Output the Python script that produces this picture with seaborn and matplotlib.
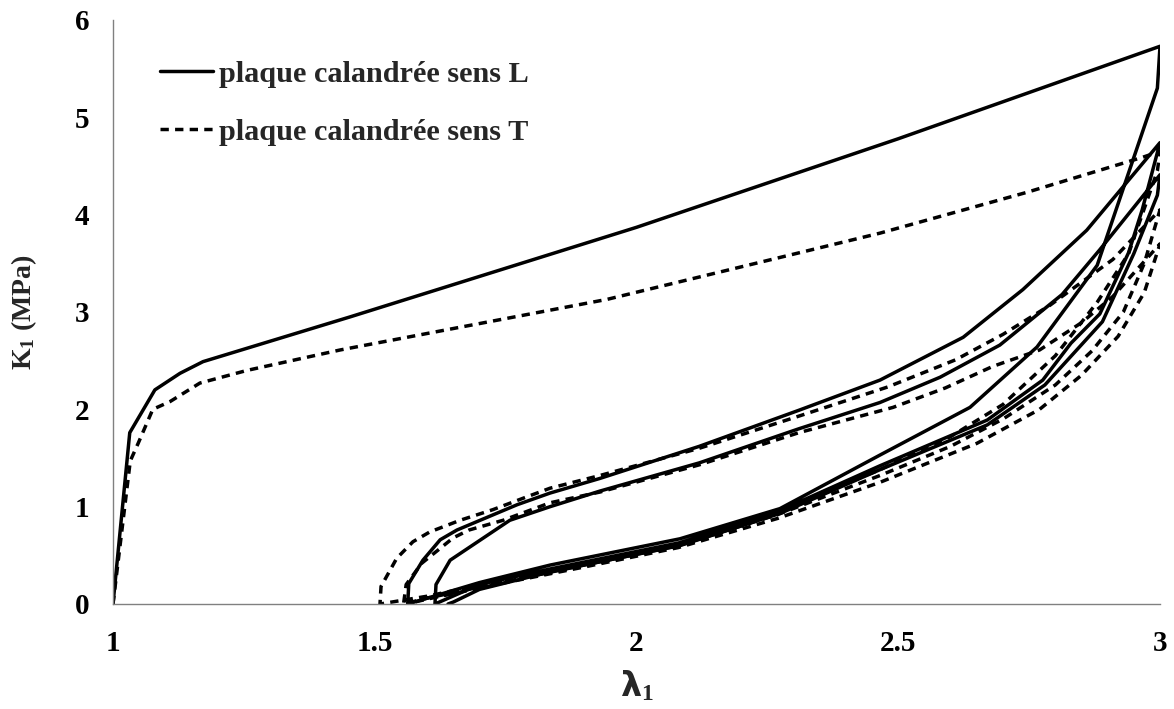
import numpy as np
import pandas as pd
import matplotlib
matplotlib.use("Agg")
import matplotlib.pyplot as plt
from matplotlib.lines import Line2D
import seaborn as sns

# ---------------- data ----------------
# plaque calandrée sens L (solid)
L_load1_lam = [1.0, 1.032, 1.08, 1.128, 1.172, 1.453, 2.0, 2.5, 3.0]
L_load1_K = [0.0, 1.76, 2.20, 2.37, 2.49, 2.95, 3.87, 4.78, 5.73]
L_unload1_lam = [3.0, 2.995, 2.88, 2.765, 2.637, 2.465, 2.274, 2.083, 1.835, 1.70, 1.563]
L_unload1_K = [5.73, 5.30, 3.48, 2.64, 2.02, 1.53, 0.98, 0.67, 0.40, 0.22, 0.0]
L_load2_lam = [1.563, 1.565, 1.592, 1.625, 1.657, 1.772, 1.835, 1.93, 2.12, 2.31, 2.465, 2.624, 2.738, 2.82, 2.86, 3.0]
L_load2_K = [0.0, 0.21, 0.45, 0.66, 0.76, 1.02, 1.14, 1.29, 1.62, 1.99, 2.30, 2.74, 3.23, 3.64, 3.84, 4.74]
L_unload2_lam = [3.0, 2.966, 2.94, 2.885, 2.83, 2.776, 2.67, 2.465, 2.274, 2.083, 1.835, 1.70, 1.615]
L_unload2_K = [4.74, 4.05, 3.61, 2.98, 2.68, 2.30, 1.89, 1.42, 0.96, 0.63, 0.36, 0.20, 0.0]
L_load3_lam = [1.615, 1.617, 1.644, 1.758, 1.835, 1.93, 2.12, 2.31, 2.465, 2.58, 2.694, 2.813, 2.885, 3.0]
L_load3_K = [0.0, 0.20, 0.45, 0.86, 1.00, 1.16, 1.45, 1.80, 2.07, 2.33, 2.66, 3.18, 3.64, 4.41]
L_unload3_lam = [3.0, 2.995, 2.95, 2.89, 2.78, 2.67, 2.465, 2.274, 2.083, 1.835, 1.70, 1.65, 1.64]
L_unload3_K = [4.41, 4.20, 3.60, 2.90, 2.25, 1.84, 1.38, 0.93, 0.60, 0.33, 0.15, 0.02, 0.0]

# plaque calandrée sens T (dashed)
T_load1_lam = [1.0, 1.033, 1.048, 1.076, 1.109, 1.166, 1.256, 1.434, 1.944, 2.312, 2.465, 2.746, 2.967, 3.0]
T_load1_K = [0.0, 1.47, 1.65, 2.00, 2.08, 2.27, 2.40, 2.61, 3.13, 3.61, 3.81, 4.23, 4.59, 4.65]
T_unload1_lam = [3.0, 2.995, 2.94, 2.88, 2.80, 2.70, 2.60, 2.465, 2.27, 2.08, 1.90, 1.75, 1.60, 1.51]
T_unload1_K = [4.65, 4.45, 3.60, 3.10, 2.55, 2.05, 1.72, 1.38, 0.95, 0.62, 0.42, 0.25, 0.08, 0.0]
T_load2_lam = [1.51, 1.512, 1.542, 1.573, 1.605, 1.663, 1.726, 1.79, 1.835, 1.93, 2.12, 2.31, 2.48, 2.61, 2.70, 2.79, 2.91, 3.0]
T_load2_K = [0.0, 0.18, 0.47, 0.64, 0.74, 0.86, 0.97, 1.10, 1.19, 1.32, 1.60, 1.93, 2.23, 2.51, 2.77, 3.07, 3.54, 4.05]
T_unload2_lam = [3.0, 2.97, 2.93, 2.87, 2.80, 2.70, 2.60, 2.465, 2.27, 2.08, 1.90, 1.75, 1.60, 1.555]
T_unload2_K = [4.05, 3.50, 3.00, 2.60, 2.25, 1.90, 1.62, 1.32, 0.92, 0.60, 0.40, 0.23, 0.06, 0.0]
T_load3_lam = [1.555, 1.56, 1.59, 1.62, 1.65, 1.68, 1.745, 1.835, 1.93, 2.12, 2.31, 2.49, 2.59, 2.68, 2.77, 2.85, 2.91, 3.0]
T_load3_K = [0.0, 0.20, 0.42, 0.55, 0.68, 0.76, 0.86, 1.04, 1.15, 1.43, 1.76, 2.02, 2.22, 2.44, 2.61, 2.89, 3.16, 3.70]
T_unload3_lam = [3.0, 2.97, 2.92, 2.85, 2.77, 2.65, 2.465, 2.27, 2.08, 1.90, 1.75, 1.60, 1.56]
T_unload3_K = [3.70, 3.20, 2.75, 2.35, 2.00, 1.65, 1.25, 0.88, 0.58, 0.38, 0.22, 0.05, 0.0]

labels = ["plaque calandrée sens L", "plaque calandrée sens T"]
x_ticks = [1, 1.5, 2, 2.5, 3]
x_ticklabels = ["1", "1.5", "2", "2.5", "3"]
y_ticks = [0, 1, 2, 3, 4, 5, 6]

# ---------------- build long-form table ----------------
L_lam = L_load1_lam + L_unload1_lam + L_load2_lam + L_unload2_lam + L_load3_lam + L_unload3_lam
L_K = L_load1_K + L_unload1_K + L_load2_K + L_unload2_K + L_load3_K + L_unload3_K
T_lam = T_load1_lam + T_unload1_lam + T_load2_lam + T_unload2_lam + T_load3_lam + T_unload3_lam
T_K = T_load1_K + T_unload1_K + T_load2_K + T_unload2_K + T_load3_K + T_unload3_K

df = pd.DataFrame({
    "lam": L_lam + T_lam,
    "K": L_K + T_K,
    "sens": [labels[0]] * len(L_lam) + [labels[1]] * len(T_lam),
})

# ---------------- style ----------------
sns.set_theme(style="white")
plt.rcParams["font.family"] = ["Liberation Serif", "DejaVu Serif"]
plt.rcParams["font.weight"] = "bold"
plt.rcParams["mathtext.fontset"] = "custom"
plt.rcParams["mathtext.rm"] = "Liberation Serif:bold"
plt.rcParams["mathtext.it"] = "Liberation Serif:bold"
plt.rcParams["mathtext.bf"] = "Liberation Serif:bold"
plt.rcParams["mathtext.sf"] = "DejaVu Sans:bold"

fig = plt.figure(figsize=(11.74, 7.09), dpi=100)
ax = fig.add_axes([113 / 1174, 1 - 604 / 709, (1160 - 113) / 1174, (604 - 20) / 709])

lw = 2.5
dash = (2.4, 1.8)
sns.lineplot(data=df, x="lam", y="K", hue="sens", style="sens", units="sens",
             estimator=None, sort=False, palette=["black", "black"],
             dashes={labels[0]: "", labels[1]: dash}, linewidth=lw, ax=ax,
             legend=False)

ax.set_xlim(1, 3)
ax.set_ylim(0, 6)
ax.set_xticks(x_ticks)
ax.set_xticklabels(x_ticklabels)
ax.set_yticks(y_ticks)

for side in ["top", "right"]:
    ax.spines[side].set_visible(False)
for side in ["left", "bottom"]:
    ax.spines[side].set_color("#808080")
    ax.spines[side].set_linewidth(1.0)

ax.tick_params(axis="both", direction="out", color="#808080", length=8, width=1,
               labelsize=21, labelcolor="black")
ax.tick_params(axis="x", pad=11)
ax.tick_params(axis="y", pad=9)
for t in ax.get_xticklabels() + ax.get_yticklabels():
    t.set_fontweight("bold")

ax.set_xlabel(r"$\mathsf{\lambda}_\mathrm{1}$", fontsize=24, labelpad=8)
ax.set_ylabel(r"K$_\mathrm{1}$ (MPa)", fontsize=20, fontweight="bold", labelpad=26)

handles = [Line2D([], [], color="black", lw=lw, linestyle="-"),
           Line2D([], [], color="black", lw=lw, linestyle=(0, dash))]
ax.legend(handles, labels, loc="upper left", bbox_to_anchor=(0.045, 0.93),
          frameon=False, handlelength=1.75, handletextpad=0.2,
          labelspacing=1.0, borderpad=0, borderaxespad=0,
          prop={"family": "Liberation Serif", "weight": "bold", "size": 21.8})

fig.savefig("out.png", dpi=100)
